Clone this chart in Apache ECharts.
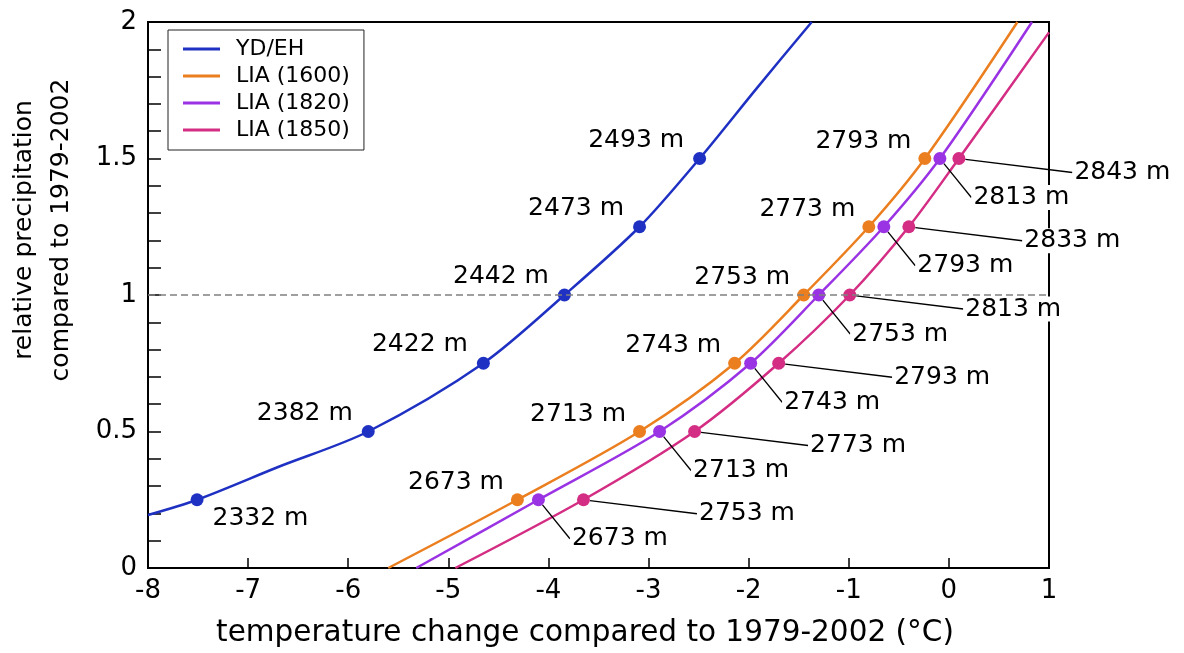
<!DOCTYPE html>
<html>
<head>
<meta charset="utf-8">
<script src="https://cdn.jsdelivr.net/npm/echarts@6/dist/echarts.min.js"></script>
<style>
    html, body { margin: 0; padding: 0; background: #fff; }
    #chart { width: 1184px; height: 653px; }
</style>
</head>
<body>
<div id="chart"></div>
<script>
// relative precipitation levels of the markers
let precipLevels = [0.25, 0.5, 0.75, 1, 1.25, 1.5];

// marker temperatures and elevation labels
let ydehTemps = [-7.51, -5.80, -4.65, -3.84, -3.09, -2.49];
let ydehElev = ['2332 m', '2382 m', '2422 m', '2442 m', '2473 m', '2493 m'];
let lia1600Temps = [-4.31, -3.09, -2.14, -1.45, -0.80, -0.24];
let lia1600Elev = ['2673 m', '2713 m', '2743 m', '2753 m', '2773 m', '2793 m'];
let lia1820Temps = [-4.10, -2.89, -1.98, -1.30, -0.65, -0.09];
let lia1820Elev = ['2673 m', '2713 m', '2743 m', '2753 m', '2793 m', '2813 m'];
let lia1850Temps = [-3.65, -2.54, -1.70, -0.99, -0.40, 0.10];
let lia1850Elev = ['2753 m', '2773 m', '2793 m', '2813 m', '2833 m', '2843 m'];

// curves [temperature, precipitation]
let ydehCurve = [[-8, 0.194], [-7.51, 0.25], [-6.70, 0.37], [-5.80, 0.5], [-4.65, 0.75], [-3.84, 1], [-3.09, 1.25], [-2.49, 1.5], [-1.92, 1.757], [-1.37, 2]];
let lia1600Curve = [[-5.60, 0], [-4.31, 0.25], [-3.09, 0.5], [-2.14, 0.75], [-1.45, 1], [-0.80, 1.25], [-0.24, 1.5], [0.685, 2]];
let lia1820Curve = [[-5.32, 0], [-4.10, 0.25], [-2.89, 0.5], [-1.98, 0.75], [-1.30, 1], [-0.65, 1.25], [-0.09, 1.5], [0.83, 2]];
let lia1850Curve = [[-4.93, 0], [-3.65, 0.25], [-2.54, 0.5], [-1.70, 0.75], [-0.99, 1], [-0.40, 1.25], [0.10, 1.5], [1, 1.962]];

let xTicks = [-8, -7, -6, -5, -4, -3, -2, -1, 0, 1];
let yTickLabels = ['0', '0.5', '1', '1.5', '2'];

let font = 'DejaVu Sans';
let colors = {
    ydeh: '#1f31c2',
    lia1600: '#eb7f1f',
    lia1820: '#9a33e3',
    lia1850: '#d42e84'
};

function marks(temps, elev) {
    return temps.map((t, i) => ({ value: [t, precipLevels[i]], name: elev[i] }));
}

function curve(name, data, color) {
    return {
        name: name,
        type: 'line',
        data: data,
        smooth: 0.3,
        showSymbol: false,
        silent: true,
        z: 2,
        lineStyle: { color: color, width: 2.5 },
        itemStyle: { color: color }
    };
}

let labelBase = {
    show: true,
    formatter: '{b}',
    fontFamily: font,
    fontSize: 25,
    color: '#000',
    backgroundColor: '#fff',
    padding: [0, 2]
};

function markerSeries(data, color, label, extra) {
    return Object.assign({
        type: 'scatter',
        data: data,
        symbolSize: 13,
        z: 4,
        silent: true,
        itemStyle: { color: color, opacity: 1 },
        label: Object.assign({}, labelBase, label)
    }, extra || {});
}

let chart = echarts.init(document.getElementById('chart'), null, { renderer: 'canvas' });

let ydehMarks = marks(ydehTemps, ydehElev);
// lowest YD/EH label sits below right of its point
ydehMarks[0].label = { position: 'right', offset: [2, 19] };

let leaderLine = {
    show: true,
    length2: 0,
    lineStyle: { color: '#000', width: 1.3 }
};

let option = {
    animation: false,
    backgroundColor: '#fff',
    grid: {
        left: 148,
        right: 135,
        top: 22,
        bottom: 85,
        show: true,
        borderColor: '#000',
        borderWidth: 2,
        outerBoundsMode: 'none'
    },
    legend: {
        orient: 'vertical',
        left: 168,
        top: 30,
        data: ['YD/EH', 'LIA (1600)', 'LIA (1820)', 'LIA (1850)'],
        icon: 'rect',
        itemWidth: 37,
        itemHeight: 3,
        itemGap: 5,
        padding: [8, 14, 9, 15],
        borderColor: '#222',
        borderWidth: 1,
        backgroundColor: '#fff',
        selectedMode: false,
        textStyle: {
            fontFamily: font,
            fontSize: 22,
            lineHeight: 22,
            color: '#000',
            padding: [0, 0, 0, 11]
        }
    },
    xAxis: {
        type: 'value',
        min: -8,
        max: 1,
        interval: 1,
        splitLine: { show: false },
        axisLine: { onZero: false, lineStyle: { color: '#000', width: 2 } },
        axisTick: { inside: true, length: 10, lineStyle: { color: '#000', width: 1.5 } },
        axisLabel: {
            fontFamily: font,
            fontSize: 26,
            color: '#000',
            margin: 10,
            formatter: v => (xTicks.indexOf(v) >= 0 ? String(v) : '')
        }
    },
    yAxis: {
        type: 'value',
        min: 0,
        max: 2,
        interval: 0.5,
        splitLine: { show: false },
        axisLine: { onZero: false, lineStyle: { color: '#000', width: 2 } },
        axisTick: { inside: true, length: 13, lineStyle: { color: '#000', width: 1.5 } },
        minorTick: { show: true, splitNumber: 5, length: 13, lineStyle: { color: '#000', width: 1.5 } },
        axisLabel: {
            fontFamily: font,
            fontSize: 26,
            color: '#000',
            margin: 11,
            formatter: v => yTickLabels[Math.round(v * 2)]
        }
    },
    graphic: [
        {
            type: 'text',
            x: 43,
            y: 230,
            rotation: Math.PI / 2,
            style: {
                text: 'relative precipitation\ncompared to 1979-2002',
                font: '25px "DejaVu Sans"',
                lineHeight: 37,
                fill: '#000',
                align: 'center',
                verticalAlign: 'middle'
            }
        },
        {
            type: 'text',
            x: 585,
            y: 633,
            style: {
                text: 'temperature change compared to 1979-2002 (°C)',
                font: '29.5px "DejaVu Sans"',
                fill: '#000',
                align: 'center',
                verticalAlign: 'middle'
            }
        }
    ],
    series: [
        Object.assign(curve('YD/EH', ydehCurve, colors.ydeh), {
            markLine: {
                silent: true,
                symbol: 'none',
                label: { show: false },
                lineStyle: { color: '#808080', type: [7, 4], width: 1.5 },
                data: [{ yAxis: 1 }]
            }
        }),
        curve('LIA (1600)', lia1600Curve, colors.lia1600),
        curve('LIA (1820)', lia1820Curve, colors.lia1820),
        curve('LIA (1850)', lia1850Curve, colors.lia1850),

        markerSeries(ydehMarks, colors.ydeh, { position: 'left', offset: [-2, -18.5] }),
        markerSeries(marks(lia1600Temps, lia1600Elev), colors.lia1600, { position: 'left', offset: [0, -17.5] }),
        markerSeries(marks(lia1820Temps, lia1820Elev), colors.lia1820, { position: 'right' }, {
            labelLayout: { dx: 20, dy: 39 },
            labelLine: leaderLine
        }),
        markerSeries(marks(lia1850Temps, lia1850Elev), colors.lia1850, { position: 'right' }, {
            labelLayout: { dx: 102, dy: 14 },
            labelLine: leaderLine
        })
    ]
};

chart.setOption(option);
</script>
</body>
</html>
